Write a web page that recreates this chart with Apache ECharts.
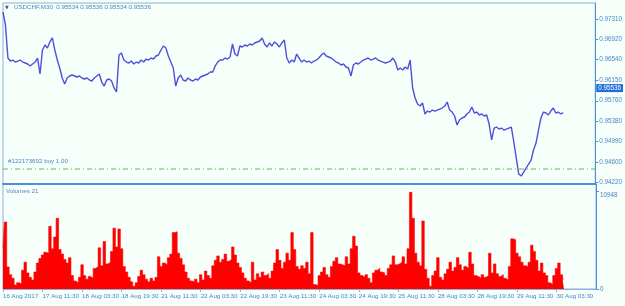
<!DOCTYPE html>
<html>
<head>
<meta charset="utf-8">
<script src="https://cdn.jsdelivr.net/npm/echarts@6/dist/echarts.min.js"></script>
<style>
  html, body { margin: 0; padding: 0; background: #f6fffa; }
  #chart { width: 625px; height: 306px; }
</style>
</head>
<body>
<div id="chart"></div>
<script>
// USDCHF M30, sampled hourly (16 Aug 19:30 .. 30 Aug 06:30)
var closePrices = [
  0.97442, 0.97196, 0.96570, 0.96513, 0.96532, 0.96494, 0.96513, 0.96532, 0.96494, 0.96476,
  0.96457, 0.96419, 0.96457, 0.96494, 0.96570, 0.96267, 0.96722, 0.96817, 0.96760, 0.96874,
  0.96950, 0.96722, 0.96532, 0.96381, 0.96191, 0.96077, 0.96191, 0.96229, 0.96248, 0.96229,
  0.96210, 0.96229, 0.96191, 0.96172, 0.96191, 0.96153, 0.96134, 0.96191, 0.96229, 0.96267,
  0.96115, 0.96039, 0.96153, 0.96172, 0.96134, 0.96002, 0.95926, 0.96627, 0.96665, 0.96532,
  0.96494, 0.96476, 0.96513, 0.96457, 0.96494, 0.96476, 0.96532, 0.96494, 0.96551, 0.96532,
  0.96570, 0.96551, 0.96608, 0.96627, 0.96722, 0.96798, 0.96760, 0.96608, 0.96494, 0.96381,
  0.96039, 0.96191, 0.96248, 0.96153, 0.96134, 0.96191, 0.96153, 0.96134, 0.96172, 0.96153,
  0.96210, 0.96229, 0.96248, 0.96267, 0.96305, 0.96305, 0.96419, 0.96494, 0.96532, 0.96532,
  0.96570, 0.96551, 0.96589, 0.96836, 0.96646, 0.96608, 0.96798, 0.96779, 0.96817, 0.96798,
  0.96836, 0.96817, 0.96855, 0.96874, 0.96893, 0.96950, 0.96836, 0.96779, 0.96855, 0.96798,
  0.96874, 0.96836, 0.96779, 0.96855, 0.96912, 0.96570, 0.96476, 0.96532, 0.96494, 0.96646,
  0.96570, 0.96494, 0.96532, 0.96494, 0.96513, 0.96476, 0.96513, 0.96532, 0.96570, 0.96627,
  0.96665, 0.96608, 0.96589, 0.96570, 0.96532, 0.96494, 0.96476, 0.96438, 0.96457, 0.96400,
  0.96381, 0.96229, 0.96438, 0.96476, 0.96457, 0.96494, 0.96532, 0.96551, 0.96570, 0.96532,
  0.96551, 0.96570, 0.96532, 0.96513, 0.96494, 0.96476, 0.96494, 0.96513, 0.96570, 0.96494,
  0.96343, 0.96381, 0.96343, 0.96400, 0.96362, 0.96532, 0.96002, 0.95812, 0.95698, 0.95660,
  0.95717, 0.95509, 0.95565, 0.95546, 0.95584, 0.95565, 0.95584, 0.95603, 0.95622, 0.95660,
  0.95736, 0.95584, 0.95546, 0.95471, 0.95300, 0.95395, 0.95433, 0.95452, 0.95509, 0.95546,
  0.95641, 0.95528, 0.95546, 0.95490, 0.95509, 0.95471, 0.95490, 0.95319, 0.95016, 0.95243,
  0.95262, 0.95224, 0.95243, 0.95205, 0.95224, 0.95243, 0.95262, 0.94978, 0.94674, 0.94371,
  0.94333, 0.94409, 0.94485, 0.94561, 0.94636, 0.94826, 0.94959, 0.95205, 0.95433, 0.95546,
  0.95528, 0.95490, 0.95565, 0.95622, 0.95528, 0.95546, 0.95509, 0.95536
];

var volumes = [
  4580, 7484, 2457, 1600, 1200, 450, 700, 600, 2100, 3000,
  1800, 1300, 1000, 1900, 2900, 3400, 3800, 4100, 4000, 7000,
  4500, 5800, 7900, 4400, 3900, 3300, 2900, 3500, 1500, 900,
  700, 1300, 2700, 1500, 1100, 1400, 1200, 2300, 2500, 4600,
  2600, 5300, 2800, 3000, 4200, 6800, 4700, 6700, 4500, 2500,
  1900, 1300, 800, 300, 700, 1400, 2100, 1600, 1100, 800,
  1200, 900, 1300, 3600, 2500, 2900, 2700, 3500, 3900, 6300,
  6400, 4000, 3400, 2700, 1900, 1200, 900, 800, 1100, 700,
  1600, 1000, 2000, 1500, 1200, 2600, 3200, 3700, 3000, 3300,
  3900, 3100, 3300, 4700, 3800, 2900, 2400, 1800, 1200, 900,
  700, 3000, 1000, 1700, 1300, 1900, 1500, 1700, 1200, 2000,
  2900, 4400, 3200, 2300, 3000, 4000, 3200, 6300, 4400, 2500,
  2200, 2600, 2300, 3000, 1700, 6300, 500, 400, 1500, 1900,
  2400, 1600, 1300, 2500, 3100, 3500, 2800, 2700, 2600, 3600,
  2800, 4500, 5900, 4800, 1800, 1500, 1300, 1600, 1200, 700,
  1800, 2100, 2300, 1900, 1800, 1500, 2300, 2700, 3700, 2700,
  2800, 3000, 3600, 2800, 4500, 10800, 7900, 4000, 3000, 2600,
  7600, 2200, 1200, 300, 1500, 2000, 3500, 1300, 1000, 1700,
  2200, 3000, 2000, 2400, 3500, 2700, 2100, 2500, 2300, 4100,
  2800, 1500, 1400, 1200, 1600, 1300, 1500, 4000, 1800, 2800,
  1700, 1400, 1600, 1200, 1000, 2500, 5600, 5500, 4000, 3600,
  3000, 2600, 2500, 3000, 4900, 4200, 3200, 2000, 2900, 1800,
  1500, 700, 500, 1500, 2300, 2900, 1600, 1100
];

// one label every 16 hourly slots
var timeLabels = [
  '16 Aug 2017', '17 Aug 11:30', '18 Aug 03:30', '18 Aug 19:30', '21 Aug 11:30',
  '22 Aug 03:30', '22 Aug 19:30', '23 Aug 11:30', '24 Aug 03:30', '24 Aug 19:30',
  '25 Aug 11:30', '28 Aug 03:30', '28 Aug 19:30', '29 Aug 11:30', '30 Aug 03:30'
];

var priceTicks = [0.94220, 0.94600, 0.94990, 0.95380, 0.95760, 0.96150, 0.96540, 0.96920, 0.97310];
var volumeTicks = [0, 10948];

var symbolTitle = 'USDCHF,M30  0.95534 0.95536 0.95534 0.95536';
var lastBid = 0.95536;
var orderPrice = 0.94466;
var orderText = '#122173692 buy 1.00';
var volumeTitle = 'Volumes 21';

var slots = 241; // incl. empty shift area on the right
var cats = [];
for (var i = 0; i < slots; i++) cats.push(String(i));

var txtColor = '#4a86c8';
var orderColor = '#5cb85c';
var fontFam = 'Liberation Sans, Arial, sans-serif';

var chart = echarts.init(document.getElementById('chart'), null, { renderer: 'canvas' });

var option = {
  backgroundColor: '#f6fffa',
  animation: false,
  textStyle: { fontFamily: fontFam },
  grid: [
    { left: 3, right: 29, top: 3, height: 181, show: true, borderColor: '#8fb0d8', borderWidth: 1, backgroundColor: 'transparent' },
    { left: 3, right: 29, top: 184, height: 105, show: true, borderColor: '#8fb0d8', borderWidth: 1, backgroundColor: 'transparent' }
  ],
  graphic: [
    { type: 'text', left: 5, top: 5, style: { text: '▼', fontSize: 5, fill: '#2f5f9f', fontFamily: 'DejaVu Sans' } },
    { type: 'text', left: 14, top: 4, style: { text: symbolTitle, fontSize: 6.2, fill: txtColor, fontFamily: fontFam } },
    { type: 'text', left: 6, top: 188, style: { text: volumeTitle, fontSize: 6.2, fill: txtColor, fontFamily: fontFam } }
  ],
  xAxis: [
    {
      type: 'category', gridIndex: 0, data: cats, boundaryGap: false,
      axisLine: { show: true, lineStyle: { color: '#4a90dc', width: 2 } },
      axisTick: { show: false }, axisLabel: { show: false }, splitLine: { show: false }
    },
    {
      type: 'category', gridIndex: 1, data: cats, boundaryGap: false,
      axisLine: { show: true, lineStyle: { color: '#8fb0d8', width: 1 } },
      axisTick: {
        show: true, length: 3, lineStyle: { color: '#8fb0d8' },
        interval: function (idx) { return idx % 16 === 0 && idx / 16 < timeLabels.length; }
      },
      axisLabel: {
        show: true, fontSize: 6.2, color: txtColor, margin: 4, align: 'left',
        interval: function (idx) { return idx % 16 === 0 && idx / 16 < timeLabels.length; },
        formatter: function (v, idx) { return timeLabels[idx / 16] || ''; }
      },
      splitLine: { show: false }
    }
  ],
  yAxis: [
    {
      type: 'value', gridIndex: 0, position: 'right', min: 0.94182, max: 0.97613,
      axisLine: { show: true, lineStyle: { color: '#4a90dc', width: 1 } },
      axisTick: { show: true, length: 3, inside: false, customValues: priceTicks, lineStyle: { color: '#4a90dc' } },
      axisLabel: {
        customValues: priceTicks, fontSize: 6.3, color: txtColor, margin: 4,
        formatter: function (v) { return v.toFixed(5); }
      },
      splitLine: { show: false }
    },
    {
      type: 'value', gridIndex: 1, position: 'right', min: 0, max: 11730,
      axisLine: { show: true, lineStyle: { color: '#4a90dc', width: 1 } },
      axisTick: { show: true, length: 3, customValues: volumeTicks, lineStyle: { color: '#4a90dc' } },
      axisLabel: {
        customValues: volumeTicks, fontSize: 6.3, color: txtColor, margin: 4,
        formatter: function (v) { return v > 0 ? '{t|' + String(v) + '}' : String(v); },
        rich: { t: { fontSize: 6.3, color: txtColor, padding: [8, 0, 0, 0] } }
      },
      splitLine: { show: false }
    }
  ],
  series: [
    {
      // open order level across the whole panel
      name: 'order', type: 'line', xAxisIndex: 0, yAxisIndex: 0,
      data: [[cats[0], orderPrice], [cats[slots - 1], orderPrice]],
      showSymbol: false, symbol: 'none', silent: true, z: 1,
      lineStyle: { color: orderColor, width: 1, type: [5, 3, 1, 3] },
      markLine: {
        silent: true, symbol: ['none', 'none'], animation: false,
        lineStyle: { color: 'rgba(0,0,0,0)', width: 1 },
        label: { show: true, position: 'insideStartTop', formatter: orderText, fontSize: 6.2, color: txtColor },
        data: [
          [
            { coord: [cats[0], orderPrice] },
            { coord: [cats[slots - 1], orderPrice] }
          ]
        ]
      }
    },
    {
      name: 'USDCHF', type: 'line', xAxisIndex: 0, yAxisIndex: 0,
      data: closePrices, showSymbol: false, symbol: 'none', z: 3,
      lineStyle: { color: '#4f4fde', width: 1.4 }
    },
    {
      // current bid marker on the price scale
      name: 'bid', type: 'line', xAxisIndex: 0, yAxisIndex: 0, data: [],
      markLine: {
        silent: true, symbol: ['none', 'none'], animation: false,
        lineStyle: { color: 'rgba(0,0,0,0)', width: 0 },
        label: {
          show: true, position: 'end', distance: 1,
          formatter: function () { return lastBid.toFixed(5); },
          backgroundColor: '#1e6fd9', color: '#ffffff', fontSize: 6.3, padding: [1, 2, 1, 2]
        },
        data: [{ yAxis: lastBid }]
      }
    },
    {
      name: 'Volumes', type: 'line', step: 'middle', xAxisIndex: 1, yAxisIndex: 1,
      data: volumes, showSymbol: false, symbol: 'none',
      lineStyle: { color: '#ff0000', width: 0.6 },
      areaStyle: { color: '#ff0000', opacity: 1 }
    }
  ]
};

chart.setOption(option);
</script>
</body>
</html>
